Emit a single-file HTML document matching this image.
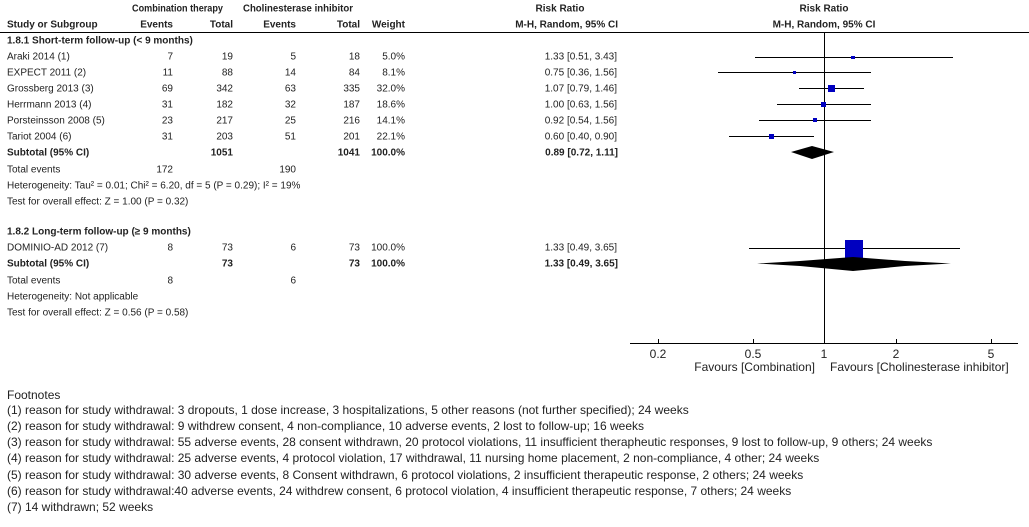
<!DOCTYPE html>
<html><head><style>
body{margin:0;background:#fff;}
svg{display:block;font-family:"Liberation Sans",Arial,sans-serif;font-size:10px;fill:#222;}
.b{font-weight:bold;}
.r{text-anchor:end;}
.m{text-anchor:middle;}
.f{font-size:12px;}
</style></head><body>
<svg width="1029" height="527" viewBox="0 0 1029 527">
<g dominant-baseline="central">
<text x="132" y="9" class="b" textLength="91" lengthAdjust="spacingAndGlyphs">Combination therapy</text>
<text x="243" y="9" class="b" textLength="110" lengthAdjust="spacingAndGlyphs">Cholinesterase inhibitor</text>
<text x="560" y="9" class="b m">Risk Ratio</text>
<text x="824" y="9" class="b m">Risk Ratio</text>
<text x="7" y="25" class="b">Study or Subgroup</text>
<text x="173" y="25" class="b r">Events</text>
<text x="233" y="25" class="b r">Total</text>
<text x="296" y="25" class="b r">Events</text>
<text x="360" y="25" class="b r">Total</text>
<text x="405" y="25" class="b r">Weight</text>
<text x="618" y="25" class="b r">M-H, Random, 95% CI</text>
<text x="824" y="25" class="b m">M-H, Random, 95% CI</text>
<text x="7" y="41" class="b">1.8.1 Short-term follow-up (&lt; 9 months)</text>

<text x="7" y="57">Araki 2014 (1)</text><text x="173" y="57" class="r">7</text><text x="233" y="57" class="r">19</text><text x="296" y="57" class="r">5</text><text x="360" y="57" class="r">18</text><text x="405" y="57" class="r">5.0%</text><text x="617" y="57" class="r">1.33 [0.51, 3.43]</text>
<text x="7" y="73">EXPECT 2011 (2)</text><text x="173" y="73" class="r">11</text><text x="233" y="73" class="r">88</text><text x="296" y="73" class="r">14</text><text x="360" y="73" class="r">84</text><text x="405" y="73" class="r">8.1%</text><text x="617" y="73" class="r">0.75 [0.36, 1.56]</text>
<text x="7" y="89">Grossberg 2013 (3)</text><text x="173" y="89" class="r">69</text><text x="233" y="89" class="r">342</text><text x="296" y="89" class="r">63</text><text x="360" y="89" class="r">335</text><text x="405" y="89" class="r">32.0%</text><text x="617" y="89" class="r">1.07 [0.79, 1.46]</text>
<text x="7" y="105">Herrmann 2013 (4)</text><text x="173" y="105" class="r">31</text><text x="233" y="105" class="r">182</text><text x="296" y="105" class="r">32</text><text x="360" y="105" class="r">187</text><text x="405" y="105" class="r">18.6%</text><text x="617" y="105" class="r">1.00 [0.63, 1.56]</text>
<text x="7" y="121">Porsteinsson 2008 (5)</text><text x="173" y="121" class="r">23</text><text x="233" y="121" class="r">217</text><text x="296" y="121" class="r">25</text><text x="360" y="121" class="r">216</text><text x="405" y="121" class="r">14.1%</text><text x="617" y="121" class="r">0.92 [0.54, 1.56]</text>
<text x="7" y="137">Tariot 2004 (6)</text><text x="173" y="137" class="r">31</text><text x="233" y="137" class="r">203</text><text x="296" y="137" class="r">51</text><text x="360" y="137" class="r">201</text><text x="405" y="137" class="r">22.1%</text><text x="617" y="137" class="r">0.60 [0.40, 0.90]</text>
<text x="7" y="153" class="b">Subtotal (95% CI)</text><text x="233" y="153" class="b r">1051</text><text x="360" y="153" class="b r">1041</text><text x="405" y="153" class="b r">100.0%</text><text x="618" y="153" class="b r">0.89 [0.72, 1.11]</text>
<text x="7" y="170">Total events</text><text x="173" y="170" class="r">172</text><text x="296" y="170" class="r">190</text>
<text x="7" y="186">Heterogeneity: Tau² = 0.01; Chi² = 6.20, df = 5 (P = 0.29); I² = 19%</text>
<text x="7" y="202">Test for overall effect: Z = 1.00 (P = 0.32)</text>

<text x="7" y="232" class="b">1.8.2 Long-term follow-up (≥ 9 months)</text>
<text x="7" y="248">DOMINIO-AD 2012 (7)</text><text x="173" y="248" class="r">8</text><text x="233" y="248" class="r">73</text><text x="296" y="248" class="r">6</text><text x="360" y="248" class="r">73</text><text x="405" y="248" class="r">100.0%</text><text x="617" y="248" class="r">1.33 [0.49, 3.65]</text>
<text x="7" y="264" class="b">Subtotal (95% CI)</text><text x="233" y="264" class="b r">73</text><text x="360" y="264" class="b r">73</text><text x="405" y="264" class="b r">100.0%</text><text x="618" y="264" class="b r">1.33 [0.49, 3.65]</text>
<text x="7" y="281">Total events</text><text x="173" y="281" class="r">8</text><text x="296" y="281" class="r">6</text>
<text x="7" y="297">Heterogeneity: Not applicable</text>
<text x="7" y="313">Test for overall effect: Z = 0.56 (P = 0.58)</text>

<g class="f">
<text x="658" y="354" class="m">0.2</text><text x="753" y="354" class="m">0.5</text><text x="824" y="354" class="m">1</text><text x="896" y="354" class="m">2</text><text x="991" y="354" class="m">5</text>
<text x="815" y="367" class="r">Favours [Combination]</text>
<text x="830" y="367">Favours [Cholinesterase inhibitor]</text>

<text x="7" y="395">Footnotes</text>
<text x="7" y="410">(1) reason for study withdrawal: 3 dropouts, 1 dose increase, 3 hospitalizations, 5 other reasons (not further specified); 24 weeks</text>
<text x="7" y="426">(2) reason for study withdrawal: 9 withdrew consent, 4 non-compliance, 10 adverse events, 2 lost to follow-up; 16 weeks</text>
<text x="7" y="442">(3) reason for study withdrawal: 55 adverse events, 28 consent withdrawn, 20 protocol violations, 11 insufficient therapheutic responses, 9 lost to follow-up, 9 others; 24 weeks</text>
<text x="7" y="458">(4) reason for study withdrawal: 25 adverse events, 4 protocol violation, 17 withdrawal, 11 nursing home placement, 2 non-compliance, 4 other; 24 weeks</text>
<text x="7" y="475">(5) reason for study withdrawal: 30 adverse events, 8 Consent withdrawn, 6 protocol violations, 2 insufficient therapeutic response, 2 others; 24 weeks</text>
<text x="7" y="491">(6) reason for study withdrawal:40 adverse events, 24 withdrew consent, 6 protocol violation, 4 insufficient therapeutic response, 7 others; 24 weeks</text>
<text x="7" y="507">(7) 14 withdrawn; 52 weeks</text>
</g>
</g>
<g stroke="#000" stroke-width="1" fill="none">
<line x1="0" y1="32.5" x2="1029" y2="32.5"/>
<line x1="824.5" y1="32" x2="824.5" y2="343"/>
<line x1="630" y1="343.5" x2="1018" y2="343.5"/>
<line x1="658.5" y1="343" x2="658.5" y2="339"/><line x1="753.5" y1="343" x2="753.5" y2="339"/><line x1="824.5" y1="343" x2="824.5" y2="339"/><line x1="896.5" y1="343" x2="896.5" y2="339"/><line x1="991.5" y1="343" x2="991.5" y2="339"/>
<line x1="755" y1="57.5" x2="953" y2="57.5"/>
<line x1="718" y1="72.5" x2="871" y2="72.5"/>
<line x1="799" y1="88.5" x2="864" y2="88.5"/>
<line x1="777" y1="104.5" x2="871" y2="104.5"/>
<line x1="759" y1="120.5" x2="871" y2="120.5"/>
<line x1="729" y1="136.5" x2="814" y2="136.5"/>
<line x1="749" y1="248.5" x2="960" y2="248.5"/>
</g>
<g fill="#0000c0">
<rect x="851" y="56" width="4" height="3"/>
<rect x="793" y="71" width="3" height="3"/>
<rect x="828" y="85" width="7" height="7"/>
<rect x="821" y="102" width="5" height="5"/>
<rect x="813" y="118" width="4" height="4"/>
<rect x="769" y="134" width="5" height="5"/>
<rect x="845" y="240" width="18" height="18"/>
</g>
<g fill="#000">
<polygon points="791,152 812,146 834,152 812,159"/>
<polygon points="757,263.5 800,261 853,257 905,261 951,263.5 905,266 853,271 800,266"/>
</g>
</svg>
</body></html>
